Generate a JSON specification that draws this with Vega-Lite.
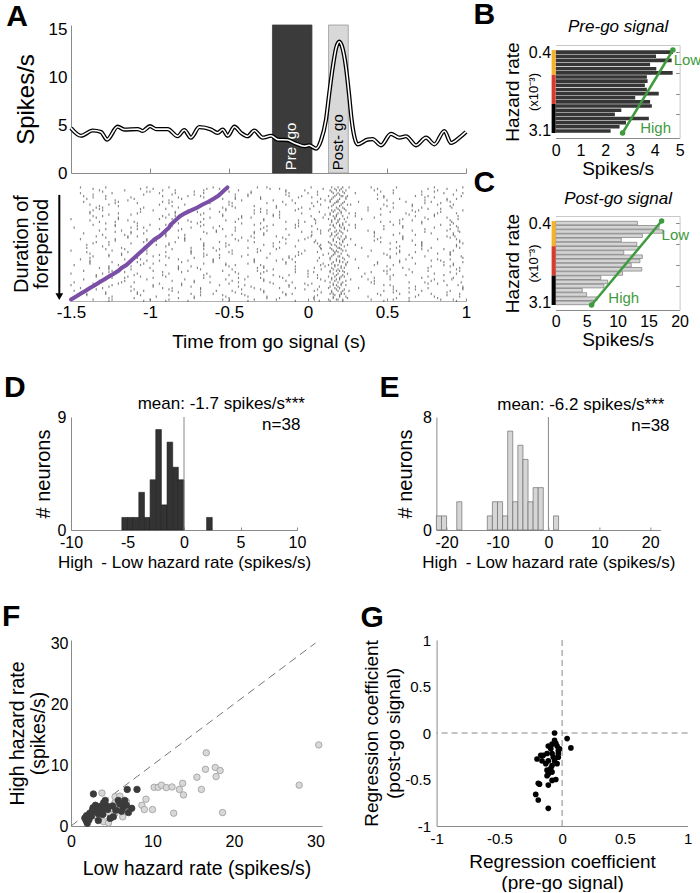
{
  "$schema": "https://vega.github.io/schema/vega-lite/v6.json",
  "padding": {"left": 2, "top": 0, "right": 0, "bottom": 0},
  "background": "white",
  "config": {
    "font": "Liberation Sans",
    "view": {"stroke": null},
    "axis": {"labelFont": "Liberation Sans", "titleFont": "Liberation Sans", "labelFontSize": 16, "titleFontSize": 19, "titleFontWeight": "normal", "labelColor": "#000", "titleColor": "#000", "domainColor": "#8a8a8a", "tickColor": "#8a8a8a", "grid": false, "ticks": false, "labelFlush": false, "labelOverlap": false},
    "title": {"font": "Liberation Sans", "fontSize": 30, "fontWeight": "bold", "anchor": "start", "frame": "group", "color": "#000"},
    "text": {"font": "Liberation Sans"}
  },
  "datasets": {
    "windows": [
      {"w": "pre", "label": "Pre\u2002go", "a": -0.225, "b": 0.025, "c": -0.105},
      {"w": "post", "label": "Post- go", "a": 0.13, "b": 0.255, "c": 0.19}
    ],
    "rate": [
      {"t": -1.5, "v": 4.7}, {"t": -1.437, "v": 3.9}, {"t": -1.363, "v": 4.45}, {"t": -1.31, "v": 4.3}, {"t": -1.272, "v": 3.5},
      {"t": -1.205, "v": 4.85}, {"t": -1.162, "v": 4.55}, {"t": -1.078, "v": 4.6}, {"t": -1.046, "v": 4.4}, {"t": -1.0, "v": 4.9},
      {"t": -0.962, "v": 4.6}, {"t": -0.888, "v": 4.6}, {"t": -0.825, "v": 3.85}, {"t": -0.783, "v": 4.5}, {"t": -0.741, "v": 3.7},
      {"t": -0.688, "v": 4.8}, {"t": -0.614, "v": 4.55}, {"t": -0.572, "v": 4.2}, {"t": -0.54, "v": 4.55}, {"t": -0.508, "v": 3.9},
      {"t": -0.466, "v": 4.85}, {"t": -0.424, "v": 4.2}, {"t": -0.382, "v": 3.85}, {"t": -0.34, "v": 4.45}, {"t": -0.287, "v": 3.7},
      {"t": -0.234, "v": 3.9}, {"t": -0.192, "v": 3.5}, {"t": -0.129, "v": 3.45}, {"t": -0.086, "v": 3.15}, {"t": -0.023, "v": 2.8},
      {"t": 0.008, "v": 2.9}, {"t": 0.051, "v": 2.55}, {"t": 0.082, "v": 3.4}, {"t": 0.114, "v": 5.6}, {"t": 0.135, "v": 8.4},
      {"t": 0.156, "v": 11.0}, {"t": 0.178, "v": 13.1}, {"t": 0.198, "v": 13.75}, {"t": 0.218, "v": 13.1}, {"t": 0.241, "v": 11.0},
      {"t": 0.26, "v": 8.2}, {"t": 0.276, "v": 5.6}, {"t": 0.295, "v": 3.7}, {"t": 0.314, "v": 3.0}, {"t": 0.378, "v": 3.5},
      {"t": 0.409, "v": 3.55}, {"t": 0.462, "v": 2.9}, {"t": 0.525, "v": 4.1}, {"t": 0.578, "v": 3.7}, {"t": 0.62, "v": 3.85},
      {"t": 0.684, "v": 2.9}, {"t": 0.747, "v": 3.7}, {"t": 0.8, "v": 3.0}, {"t": 0.863, "v": 4.4}, {"t": 0.905, "v": 3.15},
      {"t": 0.958, "v": 3.7}, {"t": 1.0, "v": 4.3}
    ],
    "trials": [
      {"r": 1, "p": -0.51, "s": [-1.44,-1.28,-1.02,-0.88,-0.6,-0.32,-0.26,0.02,0.15,0.19,0.22,0.26,0.4,0.56,0.8,0.98], "u": [-1.36,-1.06,-0.98,-0.64,-0.56,-0.24,-0.18,0.096,0.17,0.21,0.44,0.76,0.88]},
      {"r": 2, "p": -0.53, "s": [-1.32,-1.16,-0.92,-0.84,-0.66,-0.44,-0.14,-0.02,0.14,0.18,0.2,0.24,0.42,0.54,0.82,0.94], "u": [-1.3,-1.02,-1.0,-0.72,-0.5,-0.36,-0.14,0.06,0.15,0.22,0.46,0.72,0.8]},
      {"r": 3, "p": -0.55, "s": [-1.44,-1.24,-0.94,-0.84,-0.66,-0.36,-0.12,0.0,0.16,0.19,0.23,0.3,0.54,0.86,0.98], "u": [-1.36,-1.04,-0.86,-0.72,-0.46,-0.38,-0.14,0.06,0.18,0.2,0.44,0.72,0.92]},
      {"r": 4, "p": -0.57, "s": [-1.42,-1.28,-0.92,-0.76,-0.68,-0.38,-0.12,-0.04,0.13,0.17,0.21,0.22,0.25,0.48,0.68,0.76,0.97], "u": [-1.36,-1.12,-0.82,-0.66,-0.46,-0.3,-0.06,0.024,0.16,0.24,0.48,0.74,0.8]},
      {"r": 5, "p": -0.6, "s": [-1.4,-1.28,-1.1,-0.8,-0.54,-0.46,-0.3,0.08,0.15,0.2,0.24,0.44,0.58,0.88,0.94], "u": [-1.22,-1.14,-0.88,-0.62,-0.42,-0.22,-0.1,0.108,0.14,0.19,0.5,0.74,0.88]},
      {"r": 6, "p": -0.63, "s": [-1.42,-1.2,-0.92,-0.86,-0.64,-0.5,-0.16,0.06,0.14,0.18,0.19,0.23,0.32,0.62,0.78,0.9], "u": [-1.22,-1.08,-0.88,-0.62,-0.48,-0.26,-0.08,0.024,0.17,0.22,0.54,0.74,0.84]},
      {"r": 7, "p": -0.67, "s": [-1.38,-1.26,-0.94,-0.78,-0.66,-0.5,-0.14,0.08,0.16,0.21,0.25,0.27,0.48,0.66,0.82,0.92], "u": [-1.32,-1.2,-0.86,-0.68,-0.48,-0.34,-0.2,0.036,0.15,0.2,0.5,0.66,0.9]},
      {"r": 8, "p": -0.7, "s": [-1.34,-1.3,-1.04,-0.82,-0.54,-0.46,-0.2,-0.04,0.13,0.18,0.22,0.38,0.54,0.72,0.91], "u": [-1.32,-1.06,-0.9,-0.62,-0.52,-0.3,-0.06,0.012,0.19,0.23,0.46,0.76,0.84]},
      {"r": 9, "p": -0.74, "s": [-1.36,-1.3,-0.98,-0.76,-0.52,-0.34,-0.26,-0.08,0.15,0.17,0.2,0.24,0.38,0.66,0.7,0.98], "u": [-1.38,-1.06,-0.84,-0.7,-0.56,-0.3,-0.18,0.072,0.16,0.21,0.52,0.68,0.84]},
      {"r": 10, "p": -0.78, "s": [-1.38,-1.2,-1.08,-0.84,-0.66,-0.34,-0.26,-0.04,0.14,0.19,0.21,0.26,0.3,0.62,0.82,0.94], "u": [-1.26,-1.12,-0.88,-0.68,-0.54,-0.22,-0.18,0.108,0.14,0.18,0.46,0.64,0.8]},
      {"r": 11, "p": -0.81, "s": [-1.36,-1.3,-0.92,-0.84,-0.54,-0.42,-0.22,0.02,0.16,0.18,0.22,0.3,0.68,0.8,0.95], "u": [-1.34,-1.2,-0.9,-0.62,-0.42,-0.36,-0.18,0.096,0.17,0.25,0.42,0.74,0.88]},
      {"r": 12, "p": -0.83, "s": [-1.5,-1.2,-0.94,-0.86,-0.66,-0.44,-0.28,0.04,0.13,0.17,0.2,0.23,0.34,0.6,0.76,0.95], "u": [-1.38,-1.14,-0.84,-0.76,-0.52,-0.28,-0.06,0.048,0.15,0.19,0.58,0.66,0.9]},
      {"r": 13, "p": -0.85, "s": [-1.32,-1.22,-1.1,-0.74,-0.68,-0.46,-0.14,-0.02,0.15,0.19,0.24,0.46,0.52,0.72,0.91], "u": [-1.28,-1.08,-0.82,-0.7,-0.42,-0.3,-0.06,0.048,0.18,0.22,0.58,0.72,0.92]},
      {"r": 14, "p": -0.87, "s": [-1.36,-1.22,-1.0,-0.9,-0.66,-0.34,-0.22,-0.08,0.14,0.16,0.2,0.22,0.26,0.3,0.54,0.84,0.9], "u": [-1.22,-1.08,-0.86,-0.68,-0.56,-0.26,-0.06,0.024,0.16,0.2,0.48,0.6,0.94]},
      {"r": 15, "p": -0.88, "s": [-1.48,-1.12,-1.04,-0.74,-0.6,-0.46,-0.28,-0.08,0.17,0.21,0.23,0.3,0.6,0.8,0.95], "u": [-1.28,-1.08,-0.94,-0.8,-0.54,-0.3,-0.14,0.06,0.14,0.23,0.48,0.74,0.9]},
      {"r": 16, "p": -0.9, "s": [-1.32,-1.18,-1.02,-0.82,-0.58,-0.46,-0.26,0.08,0.13,0.18,0.2,0.25,0.38,0.66,0.88,0.95], "u": [-1.22,-1.12,-0.9,-0.66,-0.58,-0.34,-0.04,0.024,0.17,0.21,0.42,0.74,0.96]},
      {"r": 17, "p": -0.92, "s": [-1.42,-1.12,-1.04,-0.9,-0.64,-0.34,-0.28,0.08,0.15,0.19,0.22,0.42,0.58,0.78,0.92], "u": [-1.3,-1.16,-0.9,-0.78,-0.48,-0.28,-0.12,0.024,0.15,0.18,0.54,0.68,0.92]},
      {"r": 18, "p": -0.94, "s": [-1.34,-1.14,-1.08,-0.9,-0.52,-0.36,-0.2,0.02,0.14,0.17,0.21,0.24,0.42,0.6,0.88,0.93], "u": [-1.28,-1.14,-0.82,-0.78,-0.42,-0.34,-0.16,0.0,0.19,0.24,0.46,0.6,0.9]},
      {"r": 19, "p": -0.97, "s": [-1.44,-1.22,-1.02,-0.78,-0.68,-0.46,-0.14,-0.02,0.16,0.2,0.23,0.27,0.44,0.6,0.82,0.94], "u": [-1.22,-1.02,-0.96,-0.78,-0.44,-0.38,-0.06,0.048,0.16,0.22,0.42,0.66,0.96]},
      {"r": 20, "p": -0.99, "s": [-1.34,-1.26,-1.04,-0.84,-0.56,-0.34,-0.18,0.04,0.13,0.18,0.22,0.46,0.56,0.72,0.96], "u": [-1.36,-1.12,-0.88,-0.66,-0.52,-0.22,-0.14,0.06,0.14,0.2,0.52,0.72,0.98]},
      {"r": 21, "p": -1.01, "s": [-1.4,-1.26,-0.96,-0.88,-0.66,-0.5,-0.28,0.08,0.15,0.17,0.21,0.25,0.3,0.68,0.72,0.94], "u": [-1.3,-1.02,-0.9,-0.66,-0.52,-0.22,-0.08,0.072,0.18,0.23,0.58,0.72,0.94]},
      {"r": 22, "p": -1.03, "s": [-1.4,-1.18,-1.02,-0.74,-0.6,-0.38,-0.18,0.08,0.14,0.19,0.2,0.34,0.56,0.78,0.96], "u": [-1.28,-1.16,-0.86,-0.66,-0.56,-0.32,-0.2,0.084,0.15,0.21,0.52,0.72,0.86]},
      {"r": 23, "p": -1.05, "s": [-1.5,-1.24,-1.02,-0.74,-0.58,-0.48,-0.3,-0.02,0.16,0.18,0.22,0.24,0.4,0.58,0.76,0.92], "u": [-1.4,-1.14,-0.9,-0.74,-0.5,-0.32,-0.06,0.06,0.17,0.19,0.58,0.68,0.9]},
      {"r": 24, "p": -1.07, "s": [-1.38,-1.18,-1.02,-0.74,-0.66,-0.48,-0.24,-0.04,0.13,0.17,0.21,0.48,0.56,0.82,0.9], "u": [-1.26,-1.18,-0.94,-0.64,-0.56,-0.38,-0.06,0.096,0.16,0.25,0.5,0.64,0.9]},
      {"r": 25, "p": -1.09, "s": [-1.36,-1.26,-0.98,-0.9,-0.66,-0.42,-0.12,-0.08,0.15,0.19,0.2,0.26,0.38,0.52,0.74,0.97], "u": [-1.38,-1.08,-0.88,-0.72,-0.56,-0.26,-0.12,0.072,0.14,0.22,0.52,0.66,0.98]},
      {"r": 26, "p": -1.11, "s": [-1.44,-1.16,-1.06,-0.82,-0.6,-0.34,-0.16,-0.1,0.14,0.18,0.23,0.3,0.62,0.82,0.9], "u": [-1.38,-1.02,-0.94,-0.76,-0.6,-0.34,-0.2,0.06,0.18,0.2,0.58,0.78,0.84]},
      {"r": 27, "p": -1.13, "s": [-1.38,-1.24,-1.08,-0.8,-0.6,-0.34,-0.14,-0.08,0.16,0.2,0.22,0.25,0.44,0.58,0.86,0.98], "u": [-1.38,-1.04,-0.98,-0.66,-0.52,-0.38,-0.14,0.096,0.15,0.24,0.44,0.68,0.92]},
      {"r": 28, "p": -1.15, "s": [-1.48,-1.2,-1.06,-0.9,-0.52,-0.46,-0.3,0.08,0.13,0.17,0.19,0.24,0.42,0.54,0.86,0.92], "u": [-1.26,-1.12,-0.82,-0.74,-0.5,-0.28,-0.08,0.108,0.17,0.21,0.5,0.78,0.9]},
      {"r": 29, "p": -1.18, "s": [-1.32,-1.26,-1.0,-0.82,-0.7,-0.32,-0.28,0.04,0.15,0.21,0.23,0.32,0.6,0.76,0.96], "u": [-1.26,-1.12,-0.82,-0.68,-0.48,-0.22,-0.08,0.084,0.16,0.19,0.52,0.64,0.94]},
      {"r": 30, "p": -1.2, "s": [-1.42,-1.24,-0.98,-0.76,-0.54,-0.32,-0.26,0.0,0.14,0.18,0.2,0.22,0.48,0.5,0.76,0.96], "u": [-1.26,-1.16,-0.92,-0.8,-0.46,-0.28,-0.08,0.036,0.14,0.23,0.4,0.66,0.9]},
      {"r": 31, "p": -1.23, "s": [-1.5,-1.3,-1.08,-0.88,-0.64,-0.44,-0.3,0.0,0.16,0.19,0.25,0.36,0.5,0.8,0.94], "u": [-1.34,-1.1,-0.92,-0.66,-0.5,-0.22,-0.12,0.06,0.18,0.22,0.54,0.62,0.86]},
      {"r": 32, "p": -1.26, "s": [-1.34,-1.14,-1.06,-0.9,-0.62,-0.38,-0.18,0.0,0.13,0.17,0.21,0.23,0.34,0.52,0.76,0.98], "u": [-1.24,-1.16,-0.98,-0.66,-0.44,-0.3,-0.16,0.06,0.15,0.2,0.42,0.72,0.92]},
      {"r": 33, "p": -1.29, "s": [-1.42,-1.28,-1.02,-0.78,-0.52,-0.4,-0.28,0.08,0.15,0.18,0.2,0.27,0.38,0.52,0.8,0.91], "u": [-1.32,-1.16,-0.86,-0.72,-0.48,-0.28,-0.14,0.108,0.17,0.24,0.42,0.78,0.86]},
      {"r": 34, "p": -1.32, "s": [-1.48,-1.18,-1.1,-0.72,-0.62,-0.44,-0.24,-0.1,0.14,0.19,0.22,0.4,0.64,0.74,0.97], "u": [-1.36,-1.2,-0.94,-0.8,-0.5,-0.22,-0.02,0.024,0.16,0.21,0.42,0.76,0.82]},
      {"r": 35, "p": -1.35, "s": [-1.5,-1.24,-0.98,-0.8,-0.56,-0.4,-0.12,0.0,0.16,0.18,0.21,0.24,0.48,0.52,0.88,0.95], "u": [-1.26,-1.12,-0.98,-0.74,-0.44,-0.36,-0.12,0.072,0.14,0.19,0.54,0.68,0.98]},
      {"r": 36, "p": -1.38, "s": [-1.44,-1.3,-0.92,-0.86,-0.68,-0.34,-0.18,-0.08,0.13,0.17,0.2,0.32,0.64,0.76,0.98], "u": [-1.34,-1.1,-0.88,-0.68,-0.42,-0.3,-0.02,0.06,0.18,0.23,0.54,0.68,0.98]},
      {"r": 37, "p": -1.41, "s": [-1.48,-1.12,-1.04,-0.86,-0.58,-0.48,-0.28,0.04,0.15,0.19,0.22,0.26,0.48,0.56,0.72,0.9], "u": [-1.28,-1.08,-0.82,-0.68,-0.46,-0.28,-0.16,0.084,0.15,0.21,0.54,0.64,0.88]},
      {"r": 38, "p": -1.44, "s": [-1.4,-1.28,-1.08,-0.74,-0.6,-0.42,-0.14,-0.1,0.14,0.16,0.21,0.23,0.44,0.58,0.78,0.96], "u": [-1.4,-1.06,-0.88,-0.68,-0.54,-0.4,-0.14,0.06,0.17,0.2,0.46,0.7,0.88]},
      {"r": 39, "p": -1.47, "s": [-1.46,-1.24,-0.96,-0.72,-0.52,-0.38,-0.26,0.04,0.16,0.2,0.24,0.38,0.68,0.8,0.96], "u": [-1.26,-1.1,-0.82,-0.72,-0.5,-0.26,-0.18,0.036,0.16,0.25,0.56,0.64,0.82]},
      {"r": 40, "p": -1.5, "s": [-1.36,-1.24,-1.0,-0.88,-0.54,-0.34,-0.2,0.04,0.13,0.18,0.19,0.22,0.4,0.54,0.84,0.92], "u": [-1.26,-1.04,-0.9,-0.76,-0.5,-0.38,-0.08,0.072,0.14,0.22,0.48,0.64,0.94]}
    ],
    "preBars": [
      {"i": 1, "v": 4.73}, {"i": 2, "v": 4.05}, {"i": 3, "v": 4.68}, {"i": 4, "v": 3.81}, {"i": 5, "v": 4.06},
      {"i": 6, "v": 4.72}, {"i": 7, "v": 3.68}, {"i": 8, "v": 3.71}, {"i": 9, "v": 3.6}, {"i": 10, "v": 3.68},
      {"i": 11, "v": 4.16}, {"i": 12, "v": 3.21}, {"i": 13, "v": 3.81}, {"i": 14, "v": 3.88}, {"i": 15, "v": 2.65},
      {"i": 16, "v": 2.39}, {"i": 17, "v": 3.76}, {"i": 18, "v": 2.84}, {"i": 19, "v": 2.58}, {"i": 20, "v": 2.22}
    ],
    "postBars": [
      {"i": 1, "v": 13.2}, {"i": 2, "v": 16.7}, {"i": 3, "v": 17.3}, {"i": 4, "v": 14.0}, {"i": 5, "v": 10.6},
      {"i": 6, "v": 13.1}, {"i": 7, "v": 13.4}, {"i": 8, "v": 11.0}, {"i": 9, "v": 14.0}, {"i": 10, "v": 13.6},
      {"i": 11, "v": 12.2}, {"i": 12, "v": 13.9}, {"i": 13, "v": 10.8}, {"i": 14, "v": 7.3}, {"i": 15, "v": 8.4},
      {"i": 16, "v": 7.8}, {"i": 17, "v": 4.3}, {"i": 18, "v": 5.0}, {"i": 19, "v": 6.7}, {"i": 20, "v": 6.2}
    ],
    "preFit": [{"x": 4.73, "y": 0.5}, {"x": 2.7, "y": 20.5}],
    "postFit": [{"x": 17.1, "y": 0.5}, {"x": 5.8, "y": 20.5}],
    "histD": [
      {"a": -5.5, "b": -5, "n": 1}, {"a": -5, "b": -4.5, "n": 1}, {"a": -4.5, "b": -4, "n": 1}, {"a": -4, "b": -3.5, "n": 3},
      {"a": -3.5, "b": -3, "n": 1}, {"a": -3, "b": -2.5, "n": 4}, {"a": -2.5, "b": -2, "n": 8}, {"a": -2, "b": -1.5, "n": 2},
      {"a": -1.5, "b": -1, "n": 7}, {"a": -1, "b": -0.5, "n": 5}, {"a": -0.5, "b": 0, "n": 4}, {"a": 2, "b": 2.5, "n": 1}
    ],
    "histE": [
      {"a": -22, "b": -21, "n": 1}, {"a": -21, "b": -20, "n": 1}, {"a": -18, "b": -17, "n": 2}, {"a": -12, "b": -11, "n": 1},
      {"a": -11, "b": -10, "n": 2}, {"a": -10, "b": -9, "n": 2}, {"a": -9, "b": -8, "n": 1}, {"a": -8, "b": -7, "n": 7},
      {"a": -7, "b": -6, "n": 2}, {"a": -6, "b": -5, "n": 6}, {"a": -5, "b": -4, "n": 5}, {"a": -4, "b": -3, "n": 2},
      {"a": -3, "b": -2, "n": 3}, {"a": -2, "b": -1, "n": 3}, {"a": 1, "b": 2, "n": 1}
    ],
    "scatterF": [
      {"g": "post", "low": 3.8, "high": 5.4}, {"g": "post", "low": 5.4, "high": 4.8}, {"g": "post", "low": 6.0, "high": 4.9},
      {"g": "post", "low": 6.8, "high": 4.0}, {"g": "post", "low": 5.4, "high": 3.8}, {"g": "post", "low": 5.4, "high": 3.1},
      {"g": "post", "low": 7.0, "high": 2.6}, {"g": "post", "low": 5.4, "high": 2.1}, {"g": "post", "low": 6.35, "high": 1.5},
      {"g": "post", "low": 4.6, "high": 2.2}, {"g": "post", "low": 4.0, "high": 0.7}, {"g": "post", "low": 4.6, "high": 0.5},
      {"g": "post", "low": 3.6, "high": 1.8}, {"g": "post", "low": 8.7, "high": 3.4}, {"g": "post", "low": 9.2, "high": 4.4},
      {"g": "post", "low": 9.0, "high": 2.7}, {"g": "post", "low": 10.0, "high": 2.7}, {"g": "post", "low": 10.2, "high": 6.35},
      {"g": "post", "low": 10.7, "high": 6.35}, {"g": "post", "low": 11.1, "high": 6.7}, {"g": "post", "low": 11.7, "high": 6.3},
      {"g": "post", "low": 12.4, "high": 6.4}, {"g": "post", "low": 13.3, "high": 6.0}, {"g": "post", "low": 13.7, "high": 7.0},
      {"g": "post", "low": 13.8, "high": 5.1}, {"g": "post", "low": 12.6, "high": 2.1}, {"g": "post", "low": 15.45, "high": 8.0},
      {"g": "post", "low": 16.5, "high": 9.3}, {"g": "post", "low": 16.6, "high": 12.0}, {"g": "post", "low": 16.0, "high": 6.0},
      {"g": "post", "low": 17.7, "high": 9.6}, {"g": "post", "low": 17.8, "high": 8.1}, {"g": "post", "low": 18.3, "high": 9.1},
      {"g": "post", "low": 18.6, "high": 2.2}, {"g": "post", "low": 28.0, "high": 6.7}, {"g": "post", "low": 30.4, "high": 13.3},
      {"g": "post", "low": 3.2, "high": 1.5}, {"g": "post", "low": 6.0, "high": 3.2},
      {"g": "pre", "low": 1.7, "high": 1.3}, {"g": "pre", "low": 2.0, "high": 0.45}, {"g": "pre", "low": 1.85, "high": 0.9},
      {"g": "pre", "low": 2.3, "high": 2.1}, {"g": "pre", "low": 2.75, "high": 5.25}, {"g": "pre", "low": 2.95, "high": 2.9},
      {"g": "pre", "low": 3.35, "high": 2.0}, {"g": "pre", "low": 3.35, "high": 0.9}, {"g": "pre", "low": 3.8, "high": 2.6},
      {"g": "pre", "low": 4.2, "high": 4.2}, {"g": "pre", "low": 4.4, "high": 3.3}, {"g": "pre", "low": 3.55, "high": 3.2},
      {"g": "pre", "low": 3.15, "high": 2.35}, {"g": "pre", "low": 4.8, "high": 1.25}, {"g": "pre", "low": 6.0, "high": 3.6},
      {"g": "pre", "low": 6.4, "high": 3.1}, {"g": "pre", "low": 6.9, "high": 6.0}, {"g": "pre", "low": 7.45, "high": 2.9},
      {"g": "pre", "low": 8.1, "high": 6.0}, {"g": "pre", "low": 7.05, "high": 2.2}, {"g": "pre", "low": 5.8, "high": 4.2},
      {"g": "pre", "low": 6.6, "high": 4.2}, {"g": "pre", "low": 5.2, "high": 1.5}, {"g": "pre", "low": 2.5, "high": 1.6},
      {"g": "pre", "low": 2.7, "high": 3.0}, {"g": "pre", "low": 3.0, "high": 3.4}, {"g": "pre", "low": 2.2, "high": 1.0},
      {"g": "pre", "low": 4.0, "high": 3.8}, {"g": "pre", "low": 4.5, "high": 2.7}, {"g": "pre", "low": 3.9, "high": 1.9},
      {"g": "pre", "low": 5.5, "high": 2.6}, {"g": "pre", "low": 6.2, "high": 2.4}, {"g": "pre", "low": 2.6, "high": 2.5},
      {"g": "pre", "low": 1.9, "high": 1.7}, {"g": "pre", "low": 3.3, "high": 3.0}, {"g": "pre", "low": 4.1, "high": 2.9},
      {"g": "pre", "low": 5.1, "high": 3.3}, {"g": "pre", "low": 6.8, "high": 3.4}
    ],
    "scatterG": [
      {"x": -0.06, "y": 0.0}, {"x": 0.04, "y": -0.06}, {"x": 0.07, "y": -0.16}, {"x": -0.2, "y": -0.28}, {"x": -0.17, "y": -0.24},
      {"x": -0.12, "y": -0.22}, {"x": -0.11, "y": -0.14}, {"x": -0.08, "y": -0.12}, {"x": -0.05, "y": -0.11}, {"x": -0.04, "y": -0.14},
      {"x": -0.03, "y": -0.22}, {"x": -0.03, "y": -0.19}, {"x": -0.07, "y": -0.26}, {"x": -0.11, "y": -0.3}, {"x": -0.13, "y": -0.33},
      {"x": -0.08, "y": -0.35}, {"x": -0.12, "y": -0.4}, {"x": -0.11, "y": -0.44}, {"x": -0.09, "y": -0.38}, {"x": -0.05, "y": -0.5},
      {"x": -0.08, "y": -0.51}, {"x": -0.11, "y": -0.56}, {"x": -0.18, "y": -0.55}, {"x": -0.19, "y": -0.54}, {"x": -0.21, "y": -0.66},
      {"x": -0.19, "y": -0.72}, {"x": -0.11, "y": -0.81}, {"x": -0.06, "y": -0.3}, {"x": -0.04, "y": -0.33}, {"x": -0.08, "y": -0.22},
      {"x": -0.09, "y": -0.17}, {"x": -0.15, "y": -0.24}, {"x": -0.03, "y": -0.26}, {"x": -0.12, "y": -0.46}, {"x": -0.08, "y": -0.42},
      {"x": -0.06, "y": -0.08}, {"x": -0.02, "y": -0.17}, {"x": -0.16, "y": -0.3}
    ]
  },
  "spacing": 21,
  "vconcat": [
    {
      "spacing": -1.4,
      "hconcat": [
        {
          "spacing": 13,
          "bounds": "flush",
          "vconcat": [
            {
              "width": 395, "height": 148,
              "title": {"text": "A", "dx": -64.7, "offset": -11.3},
              "layer": [
                {
                  "data": {"name": "windows"},
                  "mark": {"type": "rect", "strokeWidth": 0.8},
                  "encoding": {
                    "x": {"field": "a", "type": "quantitative", "scale": {"domain": [-1.5, 1], "nice": false, "zero": false},
                      "axis": {"title": null, "labels": false, "ticks": true, "tickSize": -5, "values": [-1, -0.5, 0, 0.5, 1]}},
                    "x2": {"field": "b"},
                    "y": {"datum": 0, "type": "quantitative", "scale": {"domain": [0, 15.5], "nice": false},
                      "axis": {"title": "Spikes/s", "titleFontSize": 24, "values": [0, 5, 10, 15], "labelFontSize": 17, "labelPadding": 4, "titlePadding": 10}},
                    "y2": {"datum": 15.5},
                    "fill": {"field": "w", "type": "nominal", "scale": {"domain": ["pre", "post"], "range": ["#3b3b3b", "#d8d8d8"]}, "legend": null},
                    "stroke": {"field": "w", "type": "nominal", "scale": {"domain": ["pre", "post"], "range": ["#3b3b3b", "#9a9a9a"]}, "legend": null}
                  }
                },
                {
                  "data": {"name": "windows"},
                  "mark": {"type": "text", "angle": 270, "align": "left", "baseline": "middle", "fontSize": 15},
                  "encoding": {
                    "x": {"field": "c", "type": "quantitative"},
                    "y": {"datum": 0.3, "type": "quantitative"},
                    "text": {"field": "label"},
                    "color": {"field": "w", "type": "nominal", "scale": {"domain": ["pre", "post"], "range": ["#ffffff", "#000000"]}, "legend": null}
                  }
                },
                {
                  "data": {"name": "rate"},
                  "mark": {"type": "line", "interpolate": "monotone", "color": "#000", "strokeWidth": 4.2},
                  "encoding": {"x": {"field": "t", "type": "quantitative"}, "y": {"field": "v", "type": "quantitative"}}
                },
                {
                  "data": {"name": "rate"},
                  "mark": {"type": "line", "interpolate": "monotone", "color": "#fff", "strokeWidth": 1.6},
                  "encoding": {"x": {"field": "t", "type": "quantitative"}, "y": {"field": "v", "type": "quantitative"}}
                }
              ]
            },
            {
              "width": 395, "height": 115,
              "data": {"name": "trials"},
              "layer": [
                {
                  "transform": [{"flatten": ["s"]}],
                  "mark": {"type": "tick", "orient": "vertical", "thickness": 1.2, "size": 2.2, "color": "#555555"},
                  "encoding": {
                    "x": {"field": "s", "type": "quantitative", "scale": {"domain": [-1.5, 1], "nice": false, "zero": false},
                      "axis": {"title": "Time from go signal (s)", "values": [-1.5, -1, -0.5, 0, 0.5, 1], "format": ".6~g", "labelExpr": "replace(datum.label, '\u2212', '-')", "labelFontSize": 17, "ticks": true, "tickSize": -3, "labelPadding": 6, "titlePadding": 12, "domainColor": "#b0b0b0"}},
                    "y": {"field": "r", "type": "quantitative", "scale": {"domain": [0.5, 40.5], "reverse": true, "nice": false, "zero": false},
                      "axis": {"title": ["Duration of", "foreperiod"], "titleFontSize": 20, "titleLineHeight": 20, "labels": false, "ticks": false, "domain": false, "titlePadding": 20}}
                  }
                },
                {
                  "transform": [{"flatten": ["u"]}],
                  "mark": {"type": "tick", "orient": "vertical", "thickness": 1.2, "size": 2.2, "color": "#555555", "yOffset": 1.4},
                  "encoding": {
                    "x": {"field": "u", "type": "quantitative"},
                    "y": {"field": "r", "type": "quantitative"}
                  }
                },
                {
                  "mark": {"type": "line", "color": "#7a4fa5", "strokeWidth": 4, "strokeCap": "round"},
                  "encoding": {"x": {"field": "p", "type": "quantitative"}, "y": {"field": "r", "type": "quantitative"}}
                },
                {
                  "data": {"values": [{}]},
                  "mark": {"type": "rule", "color": "#000", "strokeWidth": 2},
                  "encoding": {"x": {"datum": -1.574, "type": "quantitative"}, "y": {"datum": 3.6, "type": "quantitative"}, "y2": {"datum": 38.0}}
                },
                {
                  "data": {"values": [{}]},
                  "mark": {"type": "point", "shape": "triangle-down", "filled": true, "color": "#000", "size": 60, "opacity": 1},
                  "encoding": {"x": {"datum": -1.574, "type": "quantitative"}, "y": {"datum": 39.0, "type": "quantitative"}}
                }
              ]
            }
          ]
        },
        {
          "spacing": 19,
          "bounds": "flush",
          "vconcat": [
            {"width": 124, "height": 1, "data": {"values": []}, "mark": {"type": "point", "opacity": 0}},
            {
              "spacing": 78,
              "bounds": "flush",
              "vconcat": [
                {
                  "width": 124, "height": 93,
                  "title": {"text": "B", "dx": -82, "offset": -13},
                  "layer": [
                    {
                      "data": {"name": "preBars"},
                      "mark": {"type": "bar", "orient": "horizontal", "size": 3.6, "color": "#363636"},
                      "encoding": {
                        "x": {"field": "v", "type": "quantitative", "scale": {"domain": [0, 5], "nice": false},
                          "axis": {"orient": "bottom", "title": "Spikes/s", "values": [0, 1, 2, 3, 4, 5], "labelPadding": 4, "titlePadding": 1}},
                        "y": {"field": "i", "type": "quantitative", "scale": {"domain": [0.5, 20.5], "reverse": true, "nice": false, "zero": false},
                          "axis": {"orient": "left", "title": "Hazard rate", "values": [1, 20], "labelExpr": "datum.value == 1 ? '0.4' : '3.1'", "labelPadding": 5, "titlePadding": 6, "domain": false}}
                      }
                    },
                    {
                      "data": {"values": [{}]},
                      "mark": {"type": "rule", "strokeWidth": 4, "color": "#f5b325"},
                      "encoding": {
                        "x": {"datum": -0.08, "type": "quantitative", "axis": null},
                        "y": {"datum": 0.5, "type": "quantitative", "axis": {"orient": "left", "title": "(x10\u207b\u00b3)", "titleFontSize": 13, "labels": false, "ticks": false, "domain": false, "titlePadding": 15}},
                        "y2": {"datum": 6.5}
                      }
                    },
                    {
                      "data": {"values": [{}]},
                      "mark": {"type": "rule", "strokeWidth": 4, "color": "#d93a2a"},
                      "encoding": {"x": {"datum": -0.08, "type": "quantitative", "axis": null}, "y": {"datum": 6.5, "type": "quantitative", "axis": null}, "y2": {"datum": 13.5}}
                    },
                    {
                      "data": {"values": [{}]},
                      "mark": {"type": "rule", "strokeWidth": 4, "color": "#000000"},
                      "encoding": {"x": {"datum": -0.08, "type": "quantitative", "axis": null}, "y": {"datum": 13.5, "type": "quantitative", "axis": null}, "y2": {"datum": 20.5}}
                    },
                    {
                      "data": {"name": "preFit"},
                      "mark": {"type": "line", "color": "#3f9b3f", "strokeWidth": 2.5, "point": {"filled": true, "size": 30, "color": "#3f9b3f"}},
                      "encoding": {
                        "x": {"field": "x", "type": "quantitative", "axis": {"orient": "top", "title": "Pre-go signal", "titleFontStyle": "italic", "titleFontSize": 17, "labels": false, "ticks": false, "domainColor": "#c8c8c8", "titlePadding": 10}},
                        "y": {"field": "y", "type": "quantitative", "axis": {"orient": "right", "title": null, "labels": false, "ticks": true, "tickSize": -4, "values": [1, 6, 11, 16], "domainColor": "#c8c8c8"}}
                      }
                    },
                    {
                      "data": {"values": [{}]},
                      "mark": {"type": "text", "align": "left", "baseline": "middle", "color": "#3f9b3f", "fontSize": 15},
                      "encoding": {"x": {"datum": 4.76, "type": "quantitative", "axis": null}, "y": {"datum": 2.9, "type": "quantitative", "axis": null}, "text": {"value": "Low"}}
                    },
                    {
                      "data": {"values": [{}]},
                      "mark": {"type": "text", "align": "left", "baseline": "middle", "color": "#3f9b3f", "fontSize": 15},
                      "encoding": {"x": {"datum": 3.41, "type": "quantitative", "axis": null}, "y": {"datum": 19.4, "type": "quantitative", "axis": null}, "text": {"value": "High"}}
                    }
                  ],
                  "resolve": {"axis": {"x": "independent", "y": "independent"}}
                },
                {
                  "width": 124, "height": 94,
                  "title": {"text": "C", "dx": -82, "offset": -9},
                  "layer": [
                    {
                      "data": {"name": "postBars"},
                      "mark": {"type": "bar", "orient": "horizontal", "size": 3.6, "color": "#d4d4d4", "stroke": "#7a7a7a", "strokeWidth": 0.7},
                      "encoding": {
                        "x": {"field": "v", "type": "quantitative", "scale": {"domain": [0, 20], "nice": false},
                          "axis": {"orient": "bottom", "title": "Spikes/s", "values": [0, 5, 10, 15, 20], "labelPadding": 3, "titlePadding": 1}},
                        "y": {"field": "i", "type": "quantitative", "scale": {"domain": [0.5, 20.5], "reverse": true, "nice": false, "zero": false},
                          "axis": {"orient": "left", "title": "Hazard rate", "values": [1, 20], "labelExpr": "datum.value == 1 ? '0.4' : '3.1'", "labelPadding": 5, "titlePadding": 6, "domain": false}}
                      }
                    },
                    {
                      "data": {"values": [{}]},
                      "mark": {"type": "rule", "strokeWidth": 4, "color": "#f5b325"},
                      "encoding": {
                        "x": {"datum": -0.32, "type": "quantitative", "axis": null},
                        "y": {"datum": 0.5, "type": "quantitative", "axis": {"orient": "left", "title": "(x10\u207b\u00b3)", "titleFontSize": 13, "labels": false, "ticks": false, "domain": false, "titlePadding": 15}},
                        "y2": {"datum": 6.5}
                      }
                    },
                    {
                      "data": {"values": [{}]},
                      "mark": {"type": "rule", "strokeWidth": 4, "color": "#d93a2a"},
                      "encoding": {"x": {"datum": -0.32, "type": "quantitative", "axis": null}, "y": {"datum": 6.5, "type": "quantitative", "axis": null}, "y2": {"datum": 13.5}}
                    },
                    {
                      "data": {"values": [{}]},
                      "mark": {"type": "rule", "strokeWidth": 4, "color": "#000000"},
                      "encoding": {"x": {"datum": -0.32, "type": "quantitative", "axis": null}, "y": {"datum": 13.5, "type": "quantitative", "axis": null}, "y2": {"datum": 20.5}}
                    },
                    {
                      "data": {"name": "postFit"},
                      "mark": {"type": "line", "color": "#3f9b3f", "strokeWidth": 2.5, "point": {"filled": true, "size": 30, "color": "#3f9b3f"}},
                      "encoding": {
                        "x": {"field": "x", "type": "quantitative", "axis": {"orient": "top", "title": "Post-go signal", "titleFontStyle": "italic", "titleFontSize": 17, "labels": false, "ticks": false, "domainColor": "#c8c8c8", "titlePadding": 9}},
                        "y": {"field": "y", "type": "quantitative", "axis": {"orient": "right", "title": null, "labels": false, "ticks": true, "tickSize": -4, "values": [1, 6, 11, 16], "domainColor": "#c8c8c8"}}
                      }
                    },
                    {
                      "data": {"values": [{}]},
                      "mark": {"type": "text", "align": "left", "baseline": "middle", "color": "#3f9b3f", "fontSize": 15},
                      "encoding": {"x": {"datum": 17.1, "type": "quantitative", "axis": null}, "y": {"datum": 3.8, "type": "quantitative", "axis": null}, "text": {"value": "Low"}}
                    },
                    {
                      "data": {"values": [{}]},
                      "mark": {"type": "text", "align": "left", "baseline": "middle", "color": "#3f9b3f", "fontSize": 15},
                      "encoding": {"x": {"datum": 8.5, "type": "quantitative", "axis": null}, "y": {"datum": 18.9, "type": "quantitative", "axis": null}, "text": {"value": "High"}}
                    }
                  ],
                  "resolve": {"axis": {"x": "independent", "y": "independent"}}
                }
              ]
            }
          ]
        }
      ]
    },
    {
      "spacing": 32,
      "vconcat": [
        {
          "spacing": 68.4,
          "hconcat": [
            {
              "width": 226, "height": 113,
              "title": {"text": "D", "dx": -67, "offset": -7.7},
              "layer": [
                {
                  "data": {"name": "histD"},
                  "mark": {"type": "rect", "color": "#333333", "stroke": "#1e1e1e", "strokeWidth": 0.6},
                  "encoding": {
                    "x": {"field": "a", "type": "quantitative", "scale": {"domain": [-10, 10], "nice": false},
                      "axis": {"title": "High\u2002- Low hazard rate (spikes/s)", "titleFontSize": 17, "values": [-10, -5, 0, 5, 10], "format": ".6~g", "labelExpr": "replace(datum.label, '\u2212', '-')", "ticks": true, "tickSize": -3, "labelPadding": 7, "titlePadding": 4}},
                    "x2": {"field": "b"},
                    "y": {"field": "n", "type": "quantitative", "scale": {"domain": [0, 9], "nice": false},
                      "axis": {"title": "# neurons", "titleFontSize": 20, "values": [0, 9], "labelPadding": 5, "titlePadding": 4}},
                    "y2": {"datum": 0}
                  }
                },
                {
                  "data": {"values": [{}]},
                  "mark": {"type": "rule", "color": "#888888", "strokeWidth": 1},
                  "encoding": {"x": {"datum": 0, "type": "quantitative"}}
                },
                {
                  "data": {"values": [{}]},
                  "mark": {"type": "text", "align": "right", "baseline": "middle", "fontSize": 17},
                  "encoding": {"x": {"datum": 10.7, "type": "quantitative"}, "y": {"datum": 10.05, "type": "quantitative"}, "text": {"value": "mean: -1.7 spikes/s***"}}
                },
                {
                  "data": {"values": [{}]},
                  "mark": {"type": "text", "align": "right", "baseline": "middle", "fontSize": 17},
                  "encoding": {"x": {"datum": 10.3, "type": "quantitative"}, "y": {"datum": 8.38, "type": "quantitative"}, "text": {"value": "n=38"}}
                }
              ]
            },
            {
              "width": 224, "height": 113,
              "title": {"text": "E", "dx": -57, "offset": -6.8},
              "layer": [
                {
                  "data": {"name": "histE"},
                  "mark": {"type": "rect", "color": "#d6d6d6", "stroke": "#6e6e6e", "strokeWidth": 0.7},
                  "encoding": {
                    "x": {"field": "a", "type": "quantitative", "scale": {"domain": [-22, 22], "nice": false},
                      "axis": {"title": "High\u2002- Low hazard rate (spikes/s)", "titleFontSize": 17, "values": [-20, -10, 0, 10, 20], "format": ".6~g", "labelExpr": "replace(datum.label, '\u2212', '-')", "ticks": true, "tickSize": -3, "labelPadding": 7, "titlePadding": 4}},
                    "x2": {"field": "b"},
                    "y": {"field": "n", "type": "quantitative", "scale": {"domain": [0, 8], "nice": false},
                      "axis": {"title": "# neurons", "titleFontSize": 20, "values": [0, 8], "labelPadding": 5, "titlePadding": 7}},
                    "y2": {"datum": 0}
                  }
                },
                {
                  "data": {"values": [{}]},
                  "mark": {"type": "rule", "color": "#888888", "strokeWidth": 1},
                  "encoding": {"x": {"datum": 0, "type": "quantitative"}}
                },
                {
                  "data": {"values": [{}]},
                  "mark": {"type": "text", "align": "right", "baseline": "middle", "fontSize": 17},
                  "encoding": {"x": {"datum": 22.8, "type": "quantitative"}, "y": {"datum": 8.87, "type": "quantitative"}, "text": {"value": "mean: -6.2 spikes/s***"}}
                },
                {
                  "data": {"values": [{}]},
                  "mark": {"type": "text", "align": "right", "baseline": "middle", "fontSize": 17},
                  "encoding": {"x": {"datum": 23.8, "type": "quantitative"}, "y": {"datum": 7.38, "type": "quantitative"}, "text": {"value": "n=38"}}
                }
              ]
            }
          ]
        },
        {
          "spacing": 35.6,
          "hconcat": [
            {
              "width": 251, "height": 186,
              "title": {"text": "F", "dx": -69, "offset": 3},
              "layer": [
                {
                  "data": {"values": [{}]},
                  "mark": {"type": "rule", "color": "#777777", "strokeDash": [8, 5], "strokeWidth": 1},
                  "encoding": {
                    "x": {"datum": 0, "type": "quantitative", "scale": {"domain": [0, 30.8], "nice": false},
                      "axis": {"title": "Low hazard rate (spikes/s)", "titleFontSize": 19.5, "values": [0, 10, 20, 30], "labelPadding": 7, "titlePadding": 10}},
                    "y": {"datum": 0, "type": "quantitative", "scale": {"domain": [0, 30.5], "nice": false},
                      "axis": {"title": ["High hazard rate", "(spikes/s)"], "titleFontSize": 19.5, "titleLineHeight": 21, "values": [0, 10, 20, 30], "labelPadding": 3, "titlePadding": 2}},
                    "x2": {"datum": 30},
                    "y2": {"datum": 30}
                  }
                },
                {
                  "data": {"name": "scatterF"},
                  "mark": {"type": "circle", "size": 42, "strokeWidth": 0.8, "opacity": 1},
                  "encoding": {
                    "x": {"field": "low", "type": "quantitative"},
                    "y": {"field": "high", "type": "quantitative"},
                    "fill": {"field": "g", "type": "nominal", "scale": {"domain": ["post", "pre"], "range": ["#d0d0d0", "#2c2c2c"]}, "legend": null},
                    "stroke": {"field": "g", "type": "nominal", "scale": {"domain": ["post", "pre"], "range": ["#555555", "#000000"]}, "legend": null}
                  }
                }
              ]
            },
            {
              "width": 251, "height": 186,
              "title": {"text": "G", "dx": -76, "offset": 0.5},
              "layer": [
                {
                  "data": {"values": [{}]},
                  "mark": {"type": "rule", "color": "#888888", "strokeDash": [6, 4], "strokeWidth": 1},
                  "encoding": {
                    "x": {"datum": 0, "type": "quantitative", "scale": {"domain": [-1, 1], "nice": false},
                      "axis": {"title": ["Regression coefficient", "(pre-go signal)"], "titleLineHeight": 21, "values": [-1, -0.5, 0, 0.5, 1], "format": ".6~g", "labelExpr": "replace(datum.label, '\u2212', '-')", "labelFontSize": 15, "labelPadding": 5, "titlePadding": 6}}
                  }
                },
                {
                  "data": {"values": [{}]},
                  "mark": {"type": "rule", "color": "#888888", "strokeDash": [6, 4], "strokeWidth": 1},
                  "encoding": {
                    "y": {"datum": 0, "type": "quantitative", "scale": {"domain": [-1, 1], "nice": false},
                      "axis": {"title": ["Regression coefficient", "(post-go signal)"], "titleLineHeight": 22, "values": [-1, -0.5, 0, 0.5, 1], "format": ".6~g", "labelExpr": "replace(datum.label, '\u2212', '-')", "labelFontSize": 15, "labelPadding": 6, "titlePadding": 1}}
                  }
                },
                {
                  "data": {"name": "scatterG"},
                  "mark": {"type": "circle", "size": 32, "color": "#000", "opacity": 1},
                  "encoding": {"x": {"field": "x", "type": "quantitative"}, "y": {"field": "y", "type": "quantitative"}}
                }
              ]
            }
          ]
        }
      ]
    }
  ]
}
